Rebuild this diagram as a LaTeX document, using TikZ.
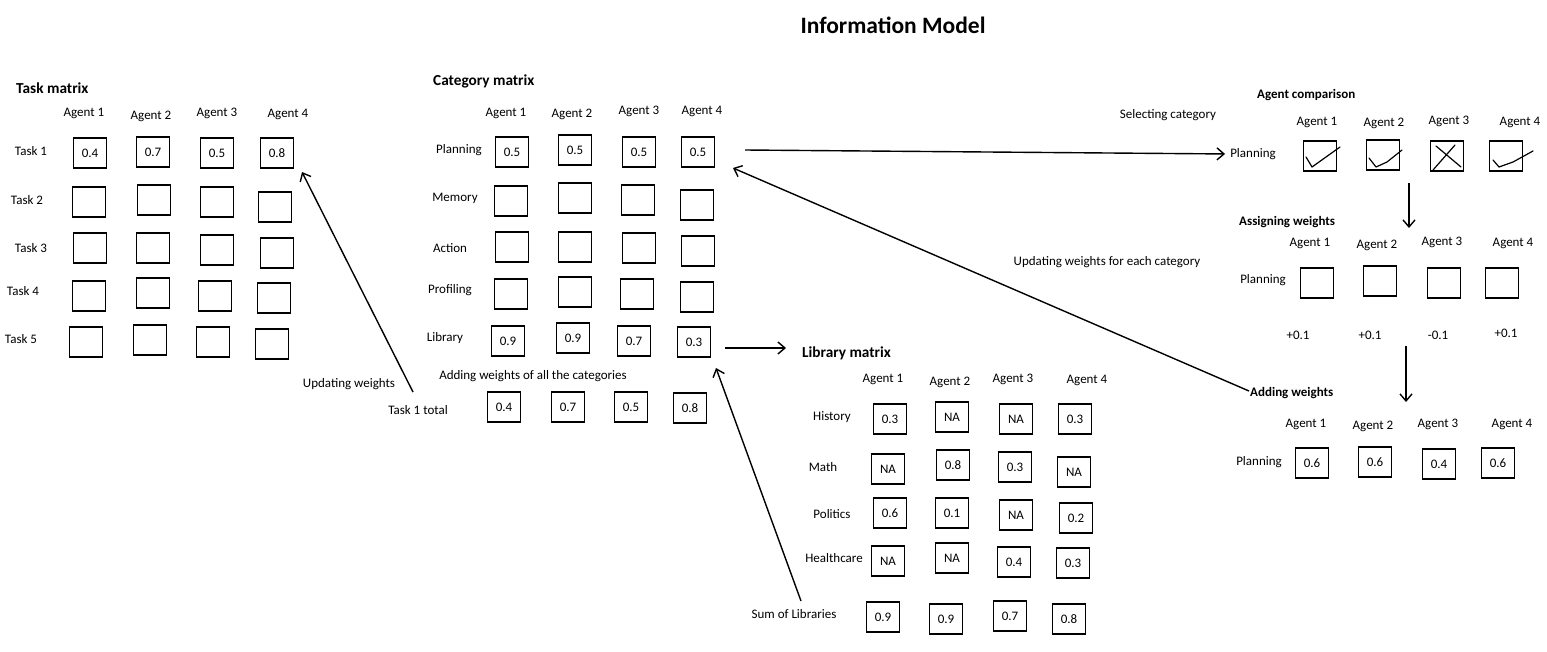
\documentclass[tikz,border=0pt]{standalone}
\usepackage{fontspec}
\setmainfont{Carlito}
\usetikzlibrary{arrows.meta}
\begin{document}
\begin{tikzpicture}[x=1pt,y=-1pt,
  txt/.style={inner sep=0pt,font=\fontsize{13}{15}\selectfont},
  ttl/.style={inner sep=0pt,anchor=west,font=\fontsize{15.3}{18}\selectfont\bfseries},
  sub/.style={inner sep=0pt,anchor=west,font=\fontsize{13}{15}\selectfont\bfseries},
  cell/.style={draw,line width=1.5pt,minimum width=33pt,minimum height=30pt,inner sep=0pt,font=\fontsize{13}{15}\selectfont},
  arr/.style={line width=1.4pt,-{Straight Barb[length=7pt,width=12pt,line width=1.4pt]}},
  tickline/.style={line width=1.2pt,line cap=round,line join=round}]
\useasboundingbox (0,0) rectangle (1547,651);
\node[inner sep=0pt,font=\fontsize{23.5}{26}\selectfont\bfseries] (title) at (893,25) {Information Model};

% ---------- Task matrix ----------
\node[ttl] (tmt) at (16,88) {Task matrix};
\foreach \n/\x/\y in {1/84/113,2/151/116,3/217/113,4/288/114}
  \node[txt] (tha\n) at (\x,\y) {Agent \n};
\foreach \n/\x/\y in {1/31/151,2/27/200,3/31/248,4/23/291,5/21/339}
  \node[txt] (tr\n) at (\x,\y) {Task \n};
\foreach \r/\c/\x/\y/\v in {1/1/90/153/0.4,1/2/153/152/0.7,1/3/217/153/0.5,1/4/277/153/0.8,
  2/1/89/202/,2/2/154/200/,2/3/217/202/,2/4/275/207/,
  3/1/90/248/,3/2/153/248/,3/3/217/250/,3/4/277/253/,
  4/1/89/296/,4/2/153/293/,4/3/215/296/,4/4/274/298/,
  5/1/86/342/,5/2/150/340/,5/3/213/342/,5/4/272/344/}
  \node[cell] (t\r\c) at (\x,\y) {\v};

% ---------- Category matrix ----------
\node[ttl] (cmt) at (433,81) {Category matrix};
\foreach \n/\x/\y in {1/506/113,2/572/114,3/639/111,4/702/111}
  \node[txt] (cha\n) at (\x,\y) {Agent \n};
\foreach \n/\x/\y/\t in {1/459/150/Planning,2/455/198/Memory,3/450/248/Action,4/450/290/Profiling,5/445/338/Library}
  \node[txt] (cr\n) at (\x,\y) {\t};
\foreach \r/\c/\x/\y/\v in {1/1/512/152/0.5,1/2/575/150/0.5,1/3/639/152/0.5,1/4/698/152/0.5,
  2/1/511/201/,2/2/575/198/,2/3/638/200/,2/4/697/205/,
  3/1/512/247/,3/2/575/247/,3/3/639/248/,3/4/698/251/,
  4/1/511/294/,4/2/575/292/,4/3/637/294/,4/4/697/297/,
  5/1/508/341/0.9,5/2/573/338/0.9,5/3/634/341/0.7,5/4/694/342/0.3}
  \node[cell] (c\r\c) at (\x,\y) {\v};
\node[txt] (addall) at (533,376) {Adding weights of all the categories};
\node[txt] (t1tot) at (418,410) {Task 1 total};
\foreach \c/\x/\y/\v in {1/504/407/0.4,2/568/407/0.7,3/631/407/0.5,4/690/408/0.8}
  \node[cell] (ct\c) at (\x,\y) {\v};

% ---------- Library matrix ----------
\node[ttl] (lmt) at (802,353) {Library matrix};
\foreach \n/\x/\y in {1/883/379,2/950/382,3/1013/379,4/1087/380}
  \node[txt] (lha\n) at (\x,\y) {Agent \n};
\foreach \n/\x/\y/\t in {1/832/417/History,2/823/467/Math,3/832/514/Politics,4/834/558/Healthcare}
  \node[txt] (lr\n) at (\x,\y) {\t};
\node[txt] (sumlib) at (794,614) {Sum of Libraries};
\foreach \r/\c/\x/\y/\v in {1/1/890/419/0.3,1/2/952/417/NA,1/3/1016/419/NA,1/4/1075/419/0.3,
  2/1/888/469/NA,2/2/953/465/0.8,2/3/1015/467/0.3,2/4/1074/472/NA,
  3/1/890/513/0.6,3/2/952/513/0.1,3/3/1016/515/NA,3/4/1076/518/0.2,
  4/1/888/561/NA,4/2/952/558/NA,4/3/1014/562/0.4,4/4/1073/563/0.3,
  5/1/883/617/0.9,5/2/946/619/0.9,5/3/1010/616/0.7,5/4/1069/619/0.8}
  \node[cell] (l\r\c) at (\x,\y) {\v};

% ---------- Agent comparison ----------
\node[txt] (selcat) at (1168,115) {Selecting category};
\node[sub] (act) at (1257,95) {Agent comparison};
\foreach \n/\x/\y in {1/1317/122,2/1384/123,3/1449/121,4/1520/122}
  \node[txt] (aha\n) at (\x,\y) {Agent \n};
\node[txt] (aplan) at (1253,154) {Planning};
\foreach \c/\x/\y in {1/1320/156,2/1383/155,3/1447/156,4/1506/156}
  \node[cell] (ac\c) at (\x,\y) {};
\draw[tickline] (1306,157) -- (1312,167) -- (1340,147);
\draw[tickline] (1369,158) -- (1376,167) -- (1387,162) -- (1402,150);
\draw[tickline] (1436,146) -- (1461,167);
\draw[tickline] (1433,170) -- (1455,145);
\draw[tickline] (1493,160) -- (1499,167) -- (1513,162) -- (1533,151);

% ---------- Assigning weights ----------
\node[sub] (awt) at (1239,222) {Assigning weights};
\foreach \n/\x/\y in {1/1310/243,2/1377/245,3/1442/242,4/1513/243}
  \node[txt] (wha\n) at (\x,\y) {Agent \n};
\node[txt] (wplan) at (1263,280) {Planning};
\foreach \c/\x/\y in {1/1317/283,2/1380/281,3/1444/283,4/1502/283}
  \node[cell] (aw\c) at (\x,\y) {};
\foreach \c/\x/\y/\v in {1/1298/335/+0.1,2/1370/335/+0.1,3/1438/335/-0.1,4/1506/333/+0.1}
  \node[txt] (dw\c) at (\x,\y) {\v};

% ---------- Adding weights ----------
\node[sub] (adw) at (1250,393) {Adding weights};
\foreach \n/\x/\y in {1/1306/424,2/1373/426,3/1438/424,4/1512/424}
  \node[txt] (dha\n) at (\x,\y) {Agent \n};
\node[txt] (dplan) at (1259,462) {Planning};
\foreach \c/\x/\y/\v in {1/1312/463/0.6,2/1375/462/0.6,3/1439/464/0.4,4/1498/463/0.6}
  \node[cell] (ad\c) at (\x,\y) {\v};

% ---------- connectors ----------
\node[txt] (uwl) at (349,384) {Updating weights};
\node[txt] (uwc) at (1107,262) {Updating weights for each category};
\coordinate (uwS) at (413,392);
\coordinate (uwE) at (302,172);
\draw[arr] (uwS) -- (uwE);
\coordinate (selS) at (745,150);
\draw[arr,shorten >=5pt] (selS) -- (aplan.west);
\coordinate (libS) at (725,348);
\coordinate (libE) at (786,348);
\draw[arr] (libS) -- (libE);
\coordinate (sumS) at (801,601);
\coordinate (sumE) at (716,368);
\draw[arr] (sumS) -- (sumE);
\coordinate (ucS) at (1249,391);
\coordinate (ucE) at (733,168);
\draw[arr] (ucS) -- (ucE);
\coordinate (d1S) at (1409,183);
\coordinate (d1E) at (1409,228);
\draw[arr] (d1S) -- (d1E);
\coordinate (d2S) at (1406,346);
\coordinate (d2E) at (1406,402);
\draw[arr] (d2S) -- (d2E);
\end{tikzpicture}
\end{document}
